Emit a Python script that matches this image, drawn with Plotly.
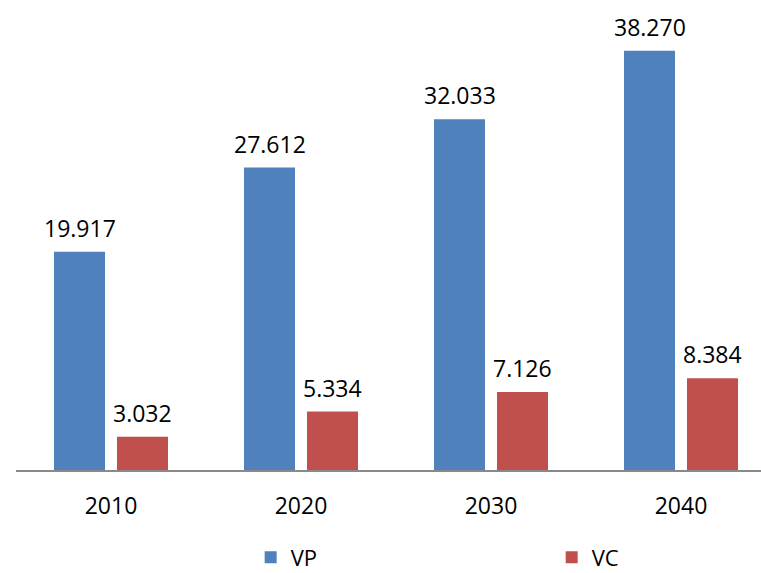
import plotly.graph_objects as go

categories = ["2010", "2020", "2030", "2040"]
vp = [19.917, 27.612, 32.033, 38.270]
vc = [3.032, 5.334, 7.126, 8.384]
vp_labels = ["19.917", "27.612", "32.033", "38.270"]
vc_labels = ["3.032", "5.334", "7.126", "8.384"]

FONT = "Open Sans"
fig = go.Figure()
fig.add_trace(go.Bar(name="VP", x=categories, y=vp, marker_color="#4F81BD",
                     marker_line_width=0, offsetgroup="a"))
fig.add_trace(go.Bar(name="VC", x=categories, y=vc, marker_color="#C0504D",
                     marker_line_width=0, offsetgroup="b"))

annotations = []
slot = 0.663 / 2
for i, c in enumerate(categories):
    annotations.append(dict(x=i - slot / 2, y=vp[i], xref="x", yref="y", text=vp_labels[i],
                            showarrow=False, yanchor="bottom", yshift=6,
                            font=dict(family=FONT, size=23, color="#000")))
    annotations.append(dict(x=i + slot / 2, y=vc[i], xref="x", yref="y", text=vc_labels[i],
                            showarrow=False, yanchor="bottom", yshift=6,
                            font=dict(family=FONT, size=23, color="#000")))

fig.update_layout(
    width=761, height=573,
    margin=dict(l=16, r=0, t=10, b=103, autoexpand=False),
    paper_bgcolor="white", plot_bgcolor="white",
    barmode="group", bargap=0.337, bargroupgap=0.19,
    annotations=annotations,
    xaxis=dict(range=[-0.5, 3.421], showline=True, linecolor="#898989", linewidth=2,
               ticks="", ticklabelstandoff=14,
               tickfont=dict(family=FONT, size=23, color="#000"), showgrid=False),
    yaxis=dict(range=[0, 42.0], visible=False),
    legend=dict(orientation="h", xref="paper", x=0.315, xanchor="left",
                yref="paper", y=-0.19, yanchor="middle",
                entrywidth=256, entrywidthmode="pixels",
                font=dict(family=FONT, size=22, color="#000")),
    showlegend=True,
)
fig.write_html("out.html")
